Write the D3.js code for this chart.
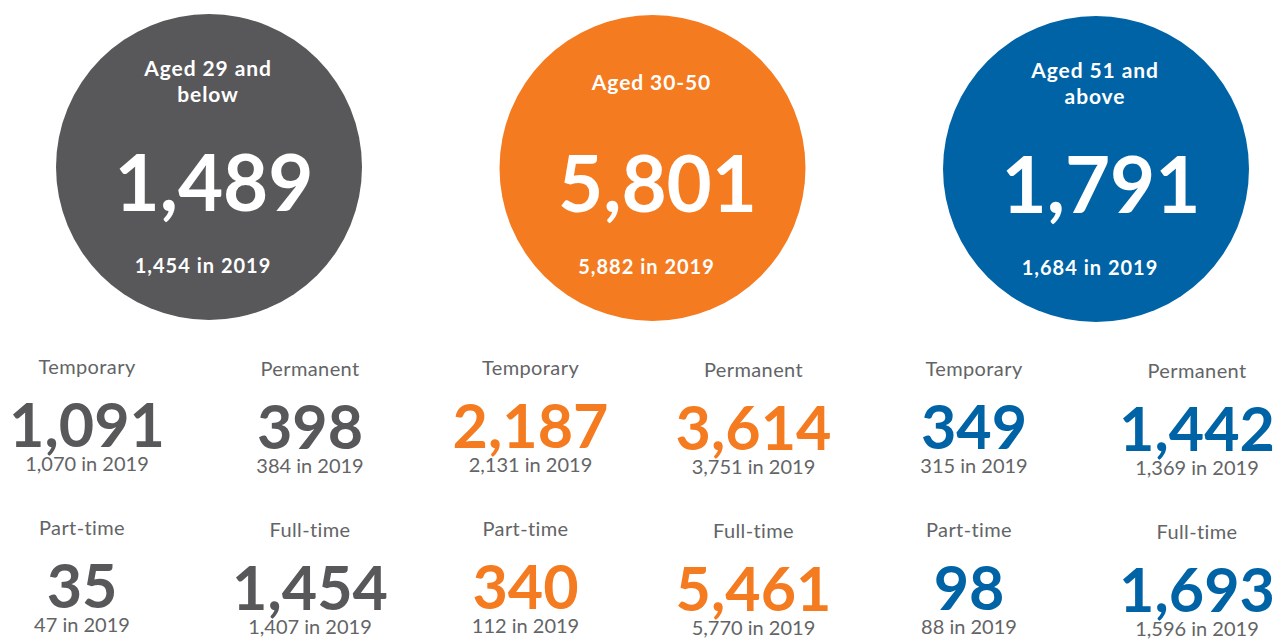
<!DOCTYPE html>
<html>
<head>
<meta charset="utf-8">
<script src="https://cdn.jsdelivr.net/npm/d3@7"></script>
<style>
  body { margin: 0; background: #fff; }
  svg { display: block; font-family: Lato, "Open Sans", sans-serif; }
</style>
</head>
<body>
<div id="chart"></div>
<script>
const groupLabels = [["Aged 29 and", "below"], ["Aged 30-50"], ["Aged 51 and", "above"]]
const groupColors = ["#58585a", "#f47b20", "#0063a6"]
const totals = [1489, 5801, 1791]
const totalsPrev = [1454, 5882, 1684]

const breakdownLabels = ["Temporary", "Permanent", "Part-time", "Full-time"]
const temporary = [1091, 2187, 349]
const temporaryPrev = [1070, 2131, 315]
const permanent = [398, 3614, 1442]
const permanentPrev = [384, 3751, 1369]
const partTime = [35, 340, 98]
const partTimePrev = [47, 112, 88]
const fullTime = [1454, 5461, 1693]
const fullTimePrev = [1407, 5770, 1596]

const width = 1278, height = 639
const fmt = d3.format(",")

let svg = d3.select("#chart")
  .append("svg")
  .attr("width", width)
  .attr("height", height)

let x = d3.scalePoint()
  .domain(d3.range(3))
  .range([209, 1096])

let data = totals.map((t, i) => ({
  i,
  label: groupLabels[i],
  color: groupColors[i],
  total: t,
  prev: totalsPrev[i],
  cells: [
    { name: breakdownLabels[0], v: temporary[i], p: temporaryPrev[i], dx: -122, row: 0, col: 0 },
    { name: breakdownLabels[1], v: permanent[i], p: permanentPrev[i], dx: 101, row: 0, col: 1 },
    { name: breakdownLabels[2], v: partTime[i], p: partTimePrev[i], dx: -127, row: 1, col: 0 },
    { name: breakdownLabels[3], v: fullTime[i], p: fullTimePrev[i], dx: 101, row: 1, col: 1 }
  ]
}))

let groups = svg.selectAll(".group").data(data)
  .enter().append("g")
  .attr("class", "group")
  .attr("transform", d => `translate(${x(d.i)}, ${d.i})`)

// big circles
groups.append("circle")
  .attr("cx", 0)
  .attr("cy", 167)
  .attr("r", 153)
  .attr("fill", d => d.color)

groups.append("text")
  .attr("text-anchor", "middle")
  .attr("fill", "#fff")
  .attr("font-weight", "bold")
  .attr("font-size", "21px")
  .attr("letter-spacing", "0.9px")
  .each(function(d) {
    let lines = d.label
    let y0 = lines.length > 1 ? 76 : 89
    d3.select(this).selectAll("tspan").data(lines)
      .enter().append("tspan")
      .attr("x", -1)
      .attr("y", (l, j) => y0 + j * 26)
      .text(l => l)
  })

groups.append("text")
  .attr("text-anchor", "middle")
  .attr("x", 5)
  .attr("y", 211)
  .attr("fill", "#fff")
  .attr("font-weight", "bold")
  .attr("font-size", "78px")
  .text(d => fmt(d.total))

groups.append("text")
  .attr("text-anchor", "middle")
  .attr("x", -6)
  .attr("y", 273)
  .attr("fill", "#fff")
  .attr("font-weight", "bold")
  .attr("font-size", "20px")
  .attr("letter-spacing", "1px")
  .text(d => fmt(d.prev) + " in 2019")

// breakdown figures
let cells = groups.selectAll(".cell").data(d => d.cells.map(c => Object.assign({ color: d.color }, c)))
  .enter().append("g")
  .attr("class", "cell")
  .attr("transform", c => `translate(${c.dx}, ${c.row * 161 + c.col * 2})`)

cells.append("text")
  .attr("text-anchor", "middle")
  .attr("y", 374)
  .attr("fill", "#636466")
  .attr("font-size", "20px")
  .attr("letter-spacing", "0.4px")
  .text(c => c.name)

cells.append("text")
  .attr("text-anchor", "middle")
  .attr("y", 447)
  .attr("fill", c => c.color)
  .attr("font-weight", "bold")
  .attr("font-size", "61px")
  .text(c => fmt(c.v))

cells.append("text")
  .attr("text-anchor", "middle")
  .attr("y", 471)
  .attr("fill", "#636466")
  .attr("font-size", "20px")
  .text(c => fmt(c.p) + " in 2019")
</script>
</body>
</html>
